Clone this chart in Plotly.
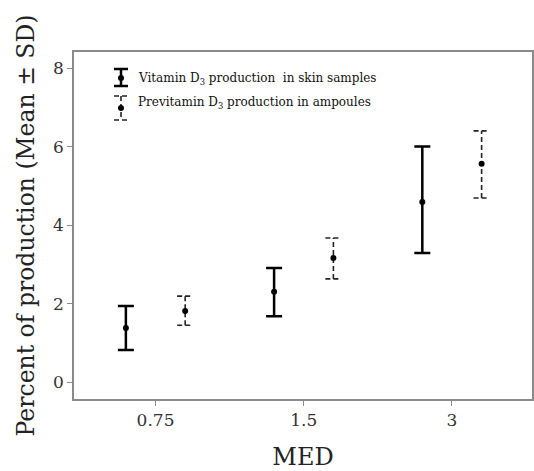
import plotly.graph_objects as go

med_labels = ["0.75", "1.5", "3"]
group_pos = [0, 1, 2]
offset = 0.2

skin_mean = [1.38, 2.30, 4.59]
skin_upper = [1.94, 2.91, 6.00]
skin_lower = [0.82, 1.68, 3.29]

amp_mean = [1.81, 3.16, 5.56]
amp_upper = [2.19, 3.67, 6.40]
amp_lower = [1.45, 2.63, 4.69]

FONT = "DejaVu Serif"
cap = 0.054

fig = go.Figure()

# Solid error bars (skin samples)
xs = [p - offset for p in group_pos]
fig.add_trace(go.Scatter(
    x=xs, y=skin_mean, mode="markers",
    marker=dict(color="black", size=6),
    error_y=dict(type="data", symmetric=False,
                 array=[u - m for u, m in zip(skin_upper, skin_mean)],
                 arrayminus=[m - l for m, l in zip(skin_mean, skin_lower)],
                 color="black", thickness=2.5, width=8),
    showlegend=False, hoverinfo="skip"))

# Dashed error bars (ampoules)
xa = [p + offset for p in group_pos]
lx, ly = [], []
for x, lo, hi in zip(xa, amp_lower, amp_upper):
    lx += [x, x, None, x - cap, x + cap, None, x - cap, x + cap, None]
    ly += [lo, hi, None, lo, lo, None, hi, hi, None]
fig.add_trace(go.Scatter(
    x=lx, y=ly, mode="lines",
    line=dict(color="#222", width=1.6, dash="5px,3px"),
    showlegend=False, hoverinfo="skip"))
fig.add_trace(go.Scatter(
    x=xa, y=amp_mean, mode="markers",
    marker=dict(color="black", size=6),
    showlegend=False, hoverinfo="skip"))

# Manual legend
L, R, T, B = 74, 532, 52, 399
def px(x):
    return (x - L) / (R - L)
def py(y):
    return (B - y) / (B - T)

sx = 121
hw = 7
# solid symbol
fig.add_shape(type="line", xref="paper", yref="paper", x0=px(sx), x1=px(sx), y0=py(69), y1=py(86),
              line=dict(color="black", width=2.5))
for yy in (69, 86):
    fig.add_shape(type="line", xref="paper", yref="paper", x0=px(sx - hw), x1=px(sx + hw), y0=py(yy), y1=py(yy),
                  line=dict(color="black", width=2.5))
fig.add_shape(type="circle", xref="paper", yref="paper", x0=px(sx - 3), x1=px(sx + 3), y0=py(81), y1=py(75),
              fillcolor="black", line=dict(color="black", width=0))
# dashed symbol
fig.add_shape(type="line", xref="paper", yref="paper", x0=px(sx), x1=px(sx), y0=py(96), y1=py(120),
              line=dict(color="#222", width=1.6, dash="5px,3px"))
for yy in (96, 120):
    fig.add_shape(type="line", xref="paper", yref="paper", x0=px(sx - hw), x1=px(sx + hw), y0=py(yy), y1=py(yy),
                  line=dict(color="#222", width=1.6, dash="5px,3px"))
fig.add_shape(type="circle", xref="paper", yref="paper", x0=px(sx - 3), x1=px(sx + 3), y0=py(111), y1=py(105),
              fillcolor="black", line=dict(color="black", width=0))

fig.add_annotation(xref="paper", yref="paper", x=px(136), y=py(79), xanchor="left", yanchor="middle",
                   text="Vitamin D<sub>3</sub> production  in skin samples", showarrow=False,
                   font=dict(family=FONT, size=12, color="#111"))
fig.add_annotation(xref="paper", yref="paper", x=px(136), y=py(103), xanchor="left", yanchor="middle",
                   text="Previtamin D<sub>3</sub> production in ampoules", showarrow=False,
                   font=dict(family=FONT, size=12, color="#111"))

axis_common = dict(showline=True, mirror=True, linecolor="#8a8a8a", linewidth=1.5,
                   ticks="outside", ticklen=5, tickcolor="#8a8a8a", tickwidth=1.2,
                   showgrid=False, zeroline=False, automargin=False,
                   tickfont=dict(family=FONT, size=17, color="#333"))

fig.update_layout(
    width=534, height=471,
    margin=dict(l=74, r=2, t=52, b=72),
    plot_bgcolor="white", paper_bgcolor="white",
    xaxis=dict(range=[-0.55, 2.54], tickmode="array", tickvals=group_pos, ticktext=med_labels,
               title=dict(text="MED", font=dict(family=FONT, size=24, color="#222"), standoff=21),
               **axis_common),
    yaxis=dict(range=[-0.43, 8.41], tickmode="array", tickvals=[0, 2, 4, 6, 8],
               title=dict(text="Percent of production (Mean ± SD)", font=dict(family=FONT, size=23.5, color="#222"),
                          standoff=12),
               **axis_common),
)

fig.write_html("out.html", config={"displayModeBar": False},
               post_script="document.body.style.margin='0';document.body.style.overflow='hidden';")
